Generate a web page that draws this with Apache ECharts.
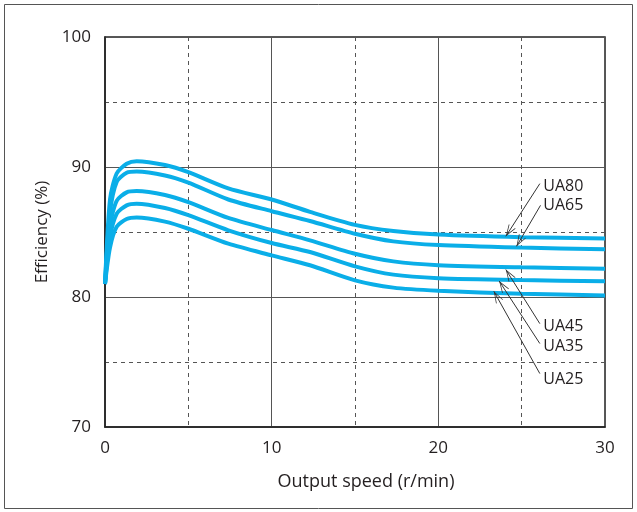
<!DOCTYPE html>
<html>
<head>
<meta charset="utf-8">
<script src="https://cdn.jsdelivr.net/npm/echarts@6/dist/echarts.min.js"></script>
<style>html,body{margin:0;padding:0;background:#fff;}#c{width:637px;height:512px;}</style>
</head>
<body>
<div id="c"></div>
<script>
// Output speed (r/min)
const speeds = [0, 0.3, 0.7, 1.3, 1.9, 3.6, 5, 7.4, 10, 12.3, 15, 17.3, 20, 25, 30];
// Efficiency (%)
const ua80 = [81, 87.5, 89.5, 90.25, 90.45, 90.15, 89.6, 88.35, 87.5, 86.55, 85.55, 85.08, 84.8, 84.6, 84.5];
const ua65 = [81, 86.5, 88.85, 89.55, 89.65, 89.35, 88.8, 87.5, 86.6, 85.85, 84.87, 84.28, 84.0, 83.8, 83.67];
const ua45 = [81, 85.5, 87.4, 88.05, 88.15, 87.85, 87.3, 86.08, 85.15, 84.36, 83.33, 82.74, 82.45, 82.28, 82.18];
const ua35 = [81, 84.6, 86.4, 87.05, 87.18, 86.85, 86.3, 85.13, 84.15, 83.46, 82.36, 81.72, 81.45, 81.3, 81.22];
const ua25 = [81, 83.8, 85.4, 86.0, 86.12, 85.8, 85.25, 84.1, 83.2, 82.44, 81.28, 80.72, 80.48, 80.25, 80.12];
const seriesNames = ['UA80', 'UA65', 'UA45', 'UA35', 'UA25'];
const seriesValues = [ua80, ua65, ua45, ua35, ua25];

// Annotation labels (data units)
const labelNames = ['UA80', 'UA65', 'UA45', 'UA35', 'UA25'];
const labelX = [26.3, 26.3, 26.3, 26.3, 26.3];
const labelY = [88.5, 87.05, 77.77, 76.23, 73.67];
// Arrow start/end points (data units)
const arrowFromX = [26.09, 26.13, 26.09, 26.09, 26.09];
const arrowFromY = [88.72, 87.05, 77.95, 76.42, 74.11];
const arrowToX = [24.05, 24.69, 24.05, 23.65, 23.33];
const arrowToY = [84.67, 83.9, 82.11, 81.23, 80.44];

const xTicks = [0, 10, 20, 30];
const yTicks = [70, 80, 90, 100];

const FONT = 'Open Sans';
const TXT = '#231f20';
const LINE = '#0aaee8';

const chart = echarts.init(document.getElementById('c'), null, {renderer: 'canvas'});

const series = seriesValues.map((vals, i) => ({
  name: seriesNames[i],
  type: 'line',
  data: speeds.map((x, j) => [x, vals[j]]),
  showSymbol: false,
  symbol: 'none',
  smooth: 0.25,
  lineStyle: {color: LINE, width: 4},
  z: 3
}));

series.push({
  type: 'scatter',
  data: labelNames.map((n, i) => ({name: n, value: [labelX[i], labelY[i]]})),
  symbolSize: 0,
  itemStyle: {opacity: 1, color: 'transparent'},
  label: {
    show: true, position: 'right', distance: 0, opacity: 1,
    formatter: p => p.name,
    fontFamily: FONT, fontSize: 16, color: TXT
  },
  silent: true,
  z: 5,
  markLine: {
    silent: true,
    symbol: ['none', 'path://M0,0 L5,10 L4.2,10.4 L0,2 L-4.2,10.4 L-5,10 Z M0,-10.4 L0.01,-10.4 L0,-10.39 Z'],
    symbolSize: [8, 24],
    itemStyle: {color: '#333'},
    lineStyle: {color: '#333', width: 1, type: 'solid', opacity: 1},
    label: {show: false},
    data: arrowFromX.map((x, i) => [
      {coord: [x, arrowFromY[i]]},
      {coord: [arrowToX[i], arrowToY[i]]}
    ])
  }
});

chart.setOption({
  animation: false,
  backgroundColor: '#fff',
  grid: {left: 105, right: 32, top: 37, bottom: 85, show: true, borderColor: '#222', borderWidth: 1.5, backgroundColor: 'transparent'},
  graphic: [{
    type: 'rect', shape: {x: 4.5, y: 4.5, width: 628, height: 504},
    style: {fill: 'none', stroke: '#555', lineWidth: 1}, silent: true, z: -1
  }],
  xAxis: {
    type: 'value', min: 0, max: 30, interval: 10,
    name: 'Output speed (r/min)', nameLocation: 'middle', nameGap: 46,
    nameTextStyle: {fontFamily: FONT, fontSize: 18, color: TXT, padding: [0, 0, 0, 22]},
    axisLine: {show: true, lineStyle: {color: '#222', width: 1.5}},
    axisTick: {show: false},
    axisLabel: {fontFamily: FONT, fontSize: 17, color: TXT, margin: 13,
      formatter: v => xTicks.includes(v) ? String(v) : ''},
    splitLine: {show: true, lineStyle: {color: '#555', width: 1}},
    minorTick: {show: false, splitNumber: 2},
    minorSplitLine: {show: true, lineStyle: {color: '#555', width: 1, type: [4, 4]}}
  },
  yAxis: {
    type: 'value', min: 70, max: 100, interval: 10,
    name: 'Efficiency (%)', nameLocation: 'middle', nameGap: 40,
    nameTextStyle: {fontFamily: FONT, fontSize: 17, color: TXT},
    axisLine: {show: true, lineStyle: {color: '#222', width: 1.5}},
    axisTick: {show: false},
    axisLabel: {fontFamily: FONT, fontSize: 17, color: TXT, margin: 14,
      formatter: v => yTicks.includes(v) ? String(v) : ''},
    splitLine: {show: true, lineStyle: {color: '#555', width: 1}},
    minorTick: {show: false, splitNumber: 2},
    minorSplitLine: {show: true, lineStyle: {color: '#555', width: 1, type: [4, 4]}}
  },
  series: series
});
</script>
</body>
</html>
